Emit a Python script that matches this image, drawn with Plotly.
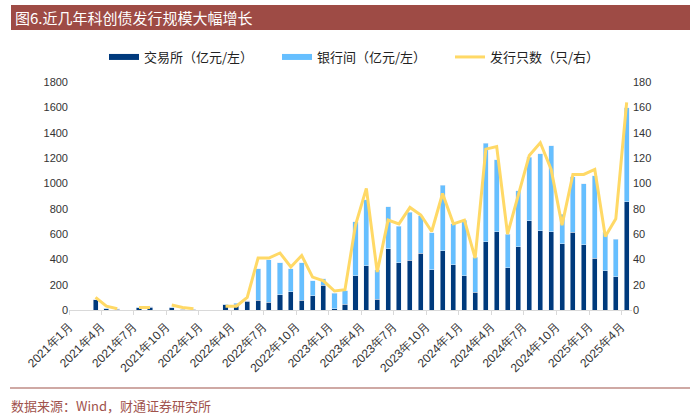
import plotly.graph_objects as go

# months 2021-01 .. 2025-04
months = []
for y in range(2021, 2026):
    for m in range(1, 13):
        if y == 2025 and m > 4:
            break
        months.append(f"{y}-{m:02d}-01")

# 交易所 (亿元) and total (交易所 + 银行间)
exchange = [None, None, 80, 10, 6, None, 18, 20, None, 18, 5, 4,
            None, None, 40, 45, 70, 77, 61, 119, 145, 77, 111, 195,
            8, 45, 272, 349, 85, 484, 373, 391, 449, 317, 468, 357,
            272, 140, 540, 616, 335, 501, 704, 625, 617, 525, 612, 515,
            409, 309, 264, 855]
total = [None, None, 80, 12, 8, None, 20, 25, None, 20, 6, 5,
         None, None, 45, 53, 74, 325, 396, 373, 325, 373, 230, 246,
         131, 151, 695, 872, 317, 814, 661, 772, 743, 608, 983, 682,
         708, 418, 1316, 1185, 599, 942, 1206, 1232, 1298, 757, 1053, 995,
         1061, 612, 559, 1596]
interbank = [None if t is None else t - e for t, e in zip(total, exchange)]
# 发行只数
counts = [None, None, 10, 3, 1, None, 2, 2, None, 4, 2, 1,
          None, None, 3, 3, 10, 41, 41, 45, 34, 43, 26, 23,
          15, 16, 67, 96, 30, 71, 68, 81, 75, 62, 92, 68,
          71, 41, 127, 129, 60, 92, 122, 132, 111, 67, 107, 107,
          111, 58, 72, 164]

names = ["交易所（亿元/左）", "银行间（亿元/左）", "发行只数（只/右）"]
colors = ["#003A7D", "#66BFFF", "#FFD966"]

# plot area in pixels: x 69..632, y 82..310
L, R, T, B = 69, 632, 82, 310
def px(x):
    return (x - L) / (R - L)
def py(y):
    return (B - y) / (B - T)

fig = go.Figure()
fig.add_trace(go.Bar(x=months, y=exchange, name=names[0], showlegend=False,
                     marker_color=colors[0], xperiod="M1", xperiodalignment="middle"))
fig.add_trace(go.Bar(x=months, y=interbank, name=names[1], showlegend=False,
                     marker_color=colors[1], xperiod="M1", xperiodalignment="middle"))
fig.add_trace(go.Scatter(x=months, y=counts, name=names[2], yaxis="y2", showlegend=False,
                         mode="lines", line=dict(color=colors[2], width=3),
                         xperiod="M1", xperiodalignment="middle", connectgaps=False))
# legend entries (wide swatches like the original)
for nm, c, w in zip(names, colors, [6, 6, 3]):
    fig.add_trace(go.Scatter(x=[None], y=[None], name=nm, mode="lines",
                             line=dict(color=c, width=w)))

tick_font = dict(family="Liberation Sans, Arial", size=11, color="#333333")
fig.update_layout(
    width=700, height=420,
    margin=dict(l=L, r=700 - R, t=T, b=420 - B),
    paper_bgcolor="white", plot_bgcolor="white",
    barmode="stack", bargap=0.52,
    font=dict(family="Noto Sans CJK SC", size=12, color="#222222"),
    xaxis=dict(type="date", range=["2021-01-01", "2025-05-01"],
               tick0="2021-01-01", dtick="M3", tickformat="%Y年%-m月",
               tickangle=-45, tickfont=dict(family="Liberation Sans, Arial", size=12, color="#333333"),
               showgrid=False, automargin=False,
               showline=True, linecolor="#D9D9D9", linewidth=1,
               ticks="outside", ticklen=4, tickcolor="#D9D9D9"),
    yaxis=dict(range=[0, 1800], dtick=200, showgrid=False, zeroline=False,
               tickfont=tick_font, ticks="", showline=False, automargin=False),
    yaxis2=dict(range=[0, 180], dtick=20, overlaying="y", side="right",
                showgrid=False, zeroline=False, tickfont=tick_font, automargin=False),
    legend=dict(orientation="h", x=px(104), xanchor="left", y=py(57), yanchor="middle",
                font=dict(size=13, color="#222222"), traceorder="normal",
                itemwidth=30, entrywidth=128, bgcolor="rgba(0,0,0,0)"),
    showlegend=True,
)

# title band
fig.add_shape(type="rect", xref="paper", yref="paper",
              x0=px(11), x1=px(690), y0=py(30), y1=py(5),
              fillcolor="#9E4B45", line_width=0, layer="below")
fig.add_annotation(text="图6.近几年科创债发行规模大幅增长", xref="paper", yref="paper",
                   x=px(13), y=py(17.5), xanchor="left", yanchor="middle", showarrow=False,
                   font=dict(family="Noto Sans CJK SC", size=15, color="white"))
# source line and note
fig.add_shape(type="line", xref="paper", yref="paper",
              x0=px(10), x1=px(690), y0=py(388), y1=py(388),
              line=dict(color="#CFA9A4", width=2))
fig.add_annotation(text="数据来源：Wind，财通证券研究所", xref="paper", yref="paper",
                   x=px(9), y=py(405), xanchor="left", yanchor="middle", showarrow=False,
                   font=dict(family="Noto Sans CJK SC", size=13, color="#A0524C"))

fig.write_html("out.html", config={"displayModeBar": False},
               post_script="document.body.style.margin='0';")
